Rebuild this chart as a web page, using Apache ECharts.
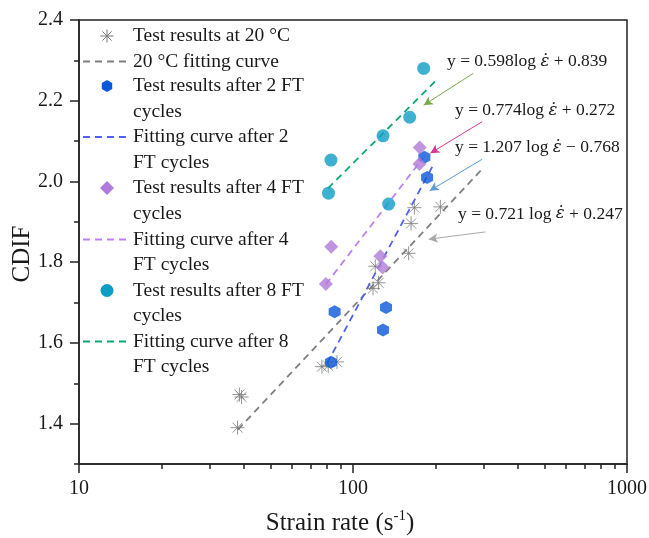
<!DOCTYPE html>
<html><head><meta charset="utf-8">
<script src="https://cdn.jsdelivr.net/npm/echarts@6/dist/echarts.min.js"></script>
<style>html,body{margin:0;padding:0;background:#fff}#c{width:649px;height:538px}</style>
</head><body><div id="c"></div>
<script>
const SERIF = '"Liberation Serif", "Times New Roman", serif';

// ---- data (strain rate, CDIF) ----
const t20Rate = [37.9, 38.5, 39.2, 77.0, 81.2, 87.4, 118.3, 124.0, 120.6, 159.6, 162.9, 167.5, 208.4];
const t20Cdif = [1.390, 1.472, 1.466, 1.541, 1.543, 1.553, 1.735, 1.749, 1.790, 1.822, 1.896, 1.935, 1.937];
const ft2Rate = [83.1, 85.7, 132.0, 128.7, 186.4, 182.2];
const ft2Cdif = [1.552, 1.677, 1.688, 1.632, 2.010, 2.060];
const ft4Rate = [79.6, 83.3, 125.8, 128.3, 174.7, 175.1];
const ft4Cdif = [1.746, 1.838, 1.815, 1.787, 2.043, 2.084];
const ft8Rate = [81.4, 83.1, 134.9, 128.7, 161.0, 181.1];
const ft8Cdif = [1.971, 2.053, 1.944, 2.113, 2.159, 2.280];

// fitting line end points
const fit20Rate = [38, 300];   const fit20Cdif = [1.385, 2.035];
const fit2Rate  = [80.4, 197]; const fit2Cdif  = [1.549, 2.043];
const fit4Rate  = [79.6, 180]; const fit4Cdif  = [1.745, 2.058];
const fit8Rate  = [81.0, 201.6]; const fit8Cdif = [1.983, 2.251];

// axes
const yMajorTicks = [1.4, 1.6, 1.8, 2.0, 2.2, 2.4];
const xMajorLabels = [10, 100, 1000];
const xMinorTicks = [20, 30, 40, 50, 60, 70, 80, 90, 200, 300, 400, 500, 600, 700, 800, 900];

// annotation arrows: [fromRate, fromCdif, toRate, toCdif]
const arrowGreen = [275.1, 2.268, 181.1, 2.189];
const arrowMagenta = [296.0, 2.148, 191.6, 2.070];
const arrowBlue = [296.0, 2.055, 190.5, 1.977];
const arrowGray = [304.3, 1.875, 188.9, 1.857];

const eqTexts = ['y = 0.598log {e|\u03B5\u0307} + 0.839', 'y = 0.774log {e|\u03B5\u0307} + 0.272',
                 'y = 1.207 log {e|\u03B5\u0307} \u2212 0.768', 'y = 0.721 log {e|\u03B5\u0307} + 0.247'];

const legendNames = [
  ['Test results at 20 \u00B0C'],
  ['20 \u00B0C fitting curve'],
  ['Test results after 2 FT', 'cycles'],
  ['Fitting curve after 2', 'FT cycles'],
  ['Test results after 4 FT', 'cycles'],
  ['Fitting curve after 4', 'FT cycles'],
  ['Test results after 8 FT', 'cycles'],
  ['Fitting curve after 8', 'FT cycles']
];

const C = {
  star: '#7a7a7a', grayLine: '#7f7f7f',
  hex: '#0a57d8', blueLine: '#5060f2',
  diamond: '#b07bd8', purpleLine: '#bd80f2',
  circle: '#0e9ec4', greenLine: '#0aa874'
};

const zip = (a, b) => a.map((v, i) => [v, b[i]]);
const STAR = 'path://M5,0L5,10M0,5L10,5M1.46,1.46L8.54,8.54M8.54,1.46L1.46,8.54';
const HEX = 'path://M0,-1L0.866,-0.5L0.866,0.5L0,1L-0.866,0.5L-0.866,-0.5Z';

function arrow(a, color) {
  return [{coord: [a[0], a[1]], lineStyle: {color: color, width: 1, type: 'solid'}}, {coord: [a[2], a[3]]}];
}

const dash = [7, 5];
const series = [
  {name: legendNames[1][0], type: 'line', data: zip(fit20Rate, fit20Cdif), symbol: 'none',
   lineStyle: {color: C.grayLine, width: 1.8, type: dash}, z: 2},
  {name: legendNames[3].join(' '), type: 'line', data: zip(fit2Rate, fit2Cdif), symbol: 'none',
   lineStyle: {color: C.blueLine, width: 1.8, type: dash}, z: 2},
  {name: legendNames[5].join(' '), type: 'line', data: zip(fit4Rate, fit4Cdif), symbol: 'none',
   lineStyle: {color: C.purpleLine, width: 1.8, type: dash}, z: 2},
  {name: legendNames[7].join(' '), type: 'line', data: zip(fit8Rate, fit8Cdif), symbol: 'none',
   lineStyle: {color: C.greenLine, width: 1.8, type: dash}, z: 2},
  {name: legendNames[0][0], type: 'scatter', data: zip(t20Rate, t20Cdif), symbol: STAR, symbolSize: 14,
   itemStyle: {color: 'rgba(0,0,0,0)', borderColor: C.star, borderWidth: 1}, z: 3},
  {name: legendNames[2].join(' '), type: 'scatter', data: zip(ft2Rate, ft2Cdif), symbol: HEX, symbolSize: [12, 13],
   itemStyle: {color: C.hex}, z: 4},
  {name: legendNames[4].join(' '), type: 'scatter', data: zip(ft4Rate, ft4Cdif), symbol: 'diamond', symbolSize: [14, 14],
   itemStyle: {color: C.diamond}, z: 4},
  {name: legendNames[6].join(' '), type: 'scatter', data: zip(ft8Rate, ft8Cdif), symbol: 'circle', symbolSize: 13,
   itemStyle: {color: C.circle}, z: 4},
  {name: 'annotations', type: 'scatter', data: [], z: 5,
   markLine: {silent: true, symbol: ['none', 'arrow'], symbolSize: [7, 9], label: {show: false},
     data: [arrow(arrowGreen, '#7bab45'), arrow(arrowMagenta, '#e0339e'), arrow(arrowBlue, '#5b9bd8'), arrow(arrowGray, '#a8a8a8')]}}
];

// legend drawn as graphic
const rowY = [36, 61.5, 86, 111.4, 137, 162.4, 188, 213.4, 239.5, 264.9, 290.5, 315.9, 341.5, 366.9];
const graphics = [];
const lx = 107, tx = 133;
const lfont = {fontSize: 19.5, fontFamily: SERIF, fill: '#1a1a1a'};
let r = 0;
legendNames.forEach((lines, i) => {
  const cy = rowY[r];
  if (i === 0) {
    const s = 6.5, d = 4.6;
    [[0, -s, 0, s], [-s, 0, s, 0], [-d, -d, d, d], [d, -d, -d, d]].forEach(q => {
      graphics.push({type: 'line', shape: {x1: lx + q[0], y1: cy + q[1], x2: lx + q[2], y2: cy + q[3]}, style: {stroke: C.star, lineWidth: 1}});
    });
  } else if (i === 2) {
    const pts = [[0,-6],[5.2,-3],[5.2,3],[0,6],[-5.2,3],[-5.2,-3]].map(p => [lx + p[0], cy + p[1]]);
    graphics.push({type: 'polygon', shape: {points: pts}, style: {fill: C.hex}});
  } else if (i === 4) {
    graphics.push({type: 'polygon', shape: {points: [[lx, cy - 7], [lx + 7, cy], [lx, cy + 7], [lx - 7, cy]]}, style: {fill: C.diamond}});
  } else if (i === 6) {
    graphics.push({type: 'circle', shape: {cx: lx, cy: cy, r: 6.5}, style: {fill: C.circle}});
  } else {
    const col = [null, C.grayLine, null, C.blueLine, null, C.purpleLine, null, C.greenLine][i];
    graphics.push({type: 'line', shape: {x1: 83, y1: cy, x2: 126, y2: cy}, style: {stroke: col, lineWidth: 1.8, lineDash: dash}});
  }
  lines.forEach(t => {
    graphics.push({type: 'text', x: tx, y: rowY[r], style: Object.assign({text: t, verticalAlign: 'middle', align: 'left'}, lfont)});
    r++;
  });
});
// equations
const eqPos = [[447, 61.7], [455, 110.7], [455, 147.7], [458, 214]];
eqTexts.forEach((t, i) => {
  graphics.push({type: 'text', x: eqPos[i][0], y: eqPos[i][1],
    style: {text: t, fontSize: 17.5, fontFamily: SERIF, fill: '#1a1a1a', verticalAlign: 'middle', align: 'left',
      rich: {e: {fontSize: 16.5, fontFamily: '"DejaVu Serif", serif', fontStyle: 'italic', fill: '#1a1a1a'}}}});
});

const axisCol = '#222';
const chart = echarts.init(document.getElementById('c'), null, {renderer: 'canvas'});
chart.setOption({
  animation: false,
  backgroundColor: '#fff',
  grid: {left: 79, right: 22, top: 20, bottom: 74, show: true, borderColor: axisCol, borderWidth: 1.5,
         backgroundColor: 'transparent', containLabel: false, outerBoundsMode: 'none'},
  xAxis: [{
    type: 'log', logBase: 10, min: 10, max: 1000,
    axisLine: {show: true, lineStyle: {color: axisCol, width: 1.5}},
    axisTick: {show: true, length: 9, lineStyle: {color: axisCol, width: 1.5}},
    axisLabel: {customValues: xMajorLabels, formatter: v => String(v), fontSize: 20, fontFamily: SERIF, color: '#1a1a1a', margin: 15},
    splitLine: {show: false},
    name: '{a|Strain rate (s}{b|-1}{a|)}', nameLocation: 'middle', nameGap: 45, nameMoveOverlap: false,
    nameTextStyle: {padding: [0, 26, 0, 0], rich: {
      a: {fontSize: 25, fontFamily: SERIF, color: '#1a1a1a', lineHeight: 28},
      b: {fontSize: 15, fontFamily: SERIF, color: '#1a1a1a', verticalAlign: 'top', lineHeight: 28}}}
  }, {
    type: 'log', logBase: 10, min: 10, max: 1000, position: 'bottom',
    axisLine: {show: false},
    axisTick: {show: true, customValues: xMinorTicks, length: 5, lineStyle: {color: axisCol, width: 1.5}},
    axisLabel: {show: false}, splitLine: {show: false}
  }],
  yAxis: [{
    type: 'value', min: 1.3, max: 2.4, interval: 0.1,
    axisLine: {show: true, lineStyle: {color: axisCol, width: 1.5}},
    axisTick: {show: true, length: 5, lineStyle: {color: axisCol, width: 1.5}},
    axisLabel: {customValues: yMajorTicks, formatter: v => v.toFixed(1), fontSize: 20, fontFamily: SERIF, color: '#1a1a1a', margin: 16},
    splitLine: {show: false},
    name: 'CDIF', nameLocation: 'middle', nameGap: 44, nameMoveOverlap: false,
    nameTextStyle: {fontSize: 25, fontFamily: SERIF, color: '#1a1a1a', padding: [0, 24, 0, 0]}
  }, {
    type: 'value', min: 1.3, max: 2.4, position: 'left',
    axisLine: {show: false},
    axisTick: {show: true, customValues: yMajorTicks, length: 9, lineStyle: {color: axisCol, width: 1.5}},
    axisLabel: {show: false}, splitLine: {show: false}
  }],
  series: series,
  graphic: graphics
});
</script></body></html>
